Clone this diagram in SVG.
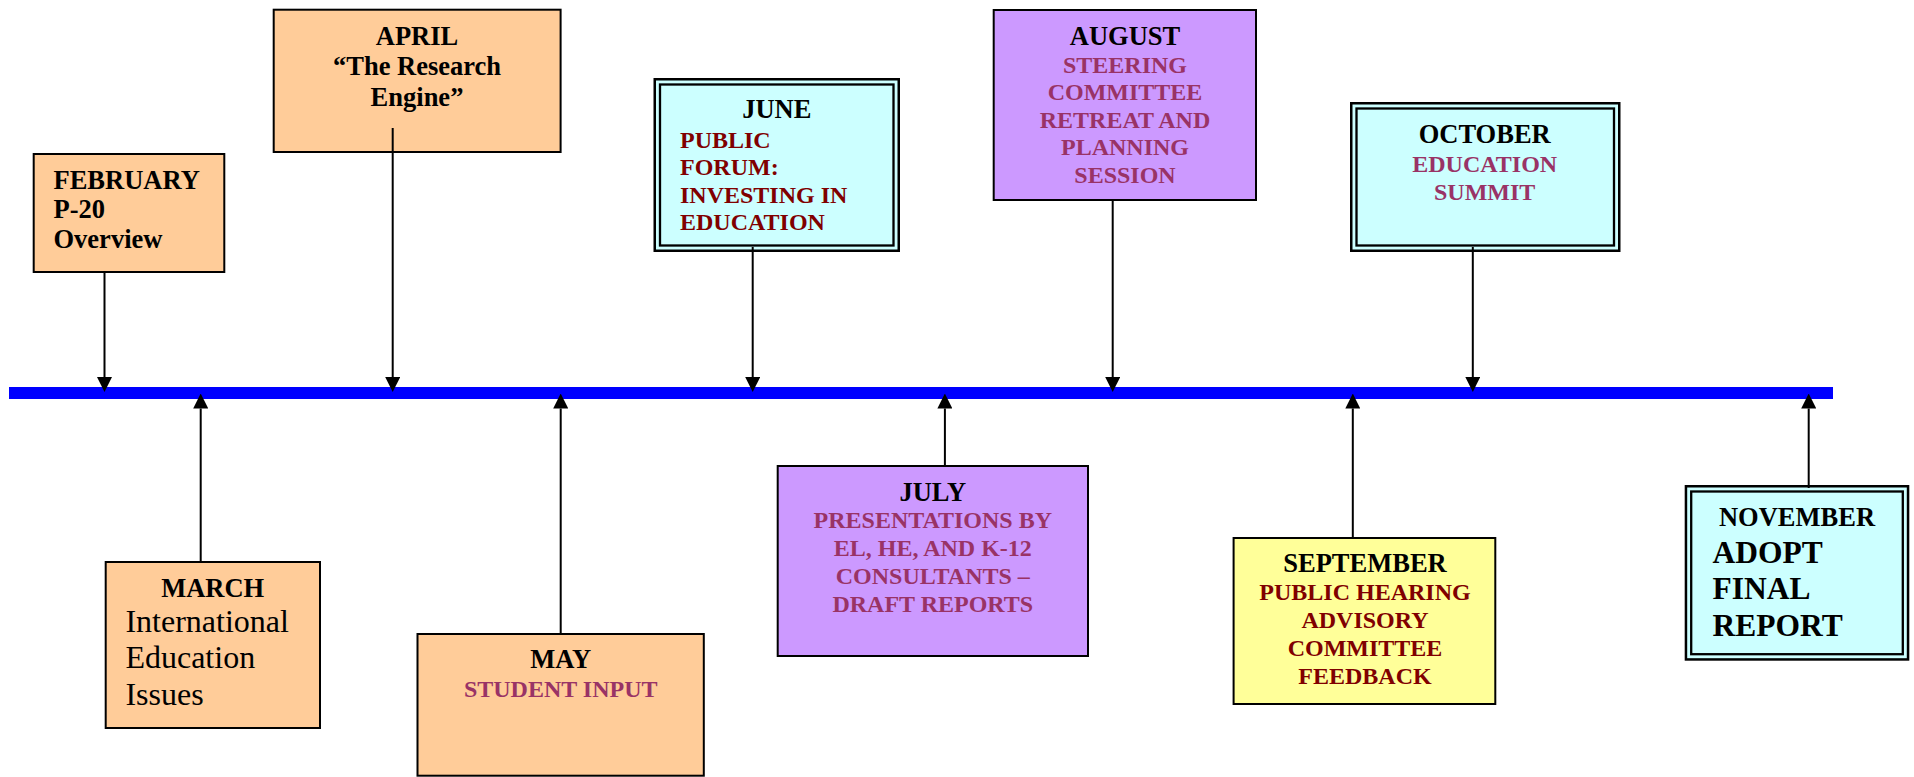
<svg xmlns="http://www.w3.org/2000/svg" width="1914" height="777" viewBox="0 0 1914 777">
<defs>
<style>
.box{stroke:#000;stroke-width:2}
.o{stroke:#000;stroke-width:2.5}
.i{fill:none;stroke:#000;stroke-width:2.3}
.peach{fill:#FFCC99}
.cyan{fill:#CCFFFF}
.purple{fill:#CC99FF}
.yellow{fill:#FFFF99}
text{font-family:"Liberation Serif","Times New Roman",serif;font-weight:bold}
.h{font-size:26.5px;fill:#000}
.b{font-size:24px}
.red{fill:#800000}
.mauve{fill:#993366}
.c{text-anchor:middle}
.reg{font-weight:normal;font-size:32px;fill:#000}
.big{font-size:31.5px;fill:#000}
.arr{stroke:#000;stroke-width:2;fill:none;marker-end:url(#ah)}
</style>
<marker id="ah" viewBox="0 0 15 15" refX="0" refY="7.5" markerWidth="15" markerHeight="15" markerUnits="userSpaceOnUse" orient="auto">
<path d="M0,0 L15,7.5 L0,15 Z" fill="#000"/>
</marker>
</defs>
<rect width="1914" height="777" fill="#fff"/>

<g id="timeline">
<rect x="9" y="387" width="1824" height="12" fill="#0000FF"/>
</g>

<g id="february">
<rect class="box peach" x="33.7" y="154" width="190.6" height="118"/>
<text class="h" x="53.5" y="189">FEBRUARY<tspan x="53.5" y="218.3">P-20</tspan><tspan x="53.5" y="248.3">Overview</tspan></text>
</g>

<g id="april">
<rect class="box peach" x="273.7" y="9.7" width="286.9" height="142.3"/>
<text class="h c" x="417" y="45">APRIL<tspan x="417" y="75.3">“The Research</tspan><tspan x="417" y="105.7">Engine”</tspan></text>
</g>

<g id="march">
<rect class="box peach" x="105.7" y="562" width="214.3" height="166"/>
<text class="h c" x="212.7" y="597">MARCH</text>
<text class="reg" x="125.4" y="632.3">International<tspan x="125.4" y="668.3">Education</tspan><tspan x="125.4" y="705">Issues</tspan></text>
</g>

<g id="may">
<rect class="box peach" x="417.5" y="634" width="286.3" height="141.7"/>
<text class="h c" x="560.7" y="668.3">MAY</text>
<text class="b mauve c" x="560.7" y="696.7">STUDENT INPUT</text>
</g>

<g id="june">
<rect class="o cyan" x="654.75" y="79.25" width="244" height="171.5"/>
<rect class="i" x="660" y="84.5" width="233.5" height="161"/>
<text class="h c" x="776.8" y="118.3">JUNE</text>
<text class="b red" x="680" y="147.7">PUBLIC<tspan x="680" y="175">FORUM:</tspan><tspan x="680" y="202.7">INVESTING IN</tspan><tspan x="680" y="230">EDUCATION</tspan></text>
</g>

<g id="july">
<rect class="box purple" x="777.7" y="466" width="310.3" height="190"/>
<text class="h c" x="932.8" y="500.7">JULY</text>
<text class="b mauve c" x="932.8" y="528.3">PRESENTATIONS BY<tspan x="932.8" y="556">EL, HE, AND K-12</tspan><tspan x="932.8" y="583.5">CONSULTANTS –</tspan><tspan x="932.8" y="611.5">DRAFT REPORTS</tspan></text>
</g>

<g id="august">
<rect class="box purple" x="993.7" y="10" width="262.3" height="190"/>
<text class="h c" x="1125" y="45">AUGUST</text>
<text class="b mauve c" x="1125" y="72.7">STEERING<tspan x="1125" y="100">COMMITTEE</tspan><tspan x="1125" y="127.7">RETREAT AND</tspan><tspan x="1125" y="155">PLANNING</tspan><tspan x="1125" y="182.7">SESSION</tspan></text>
</g>

<g id="september">
<rect class="box yellow" x="1233.6" y="538" width="261.7" height="166"/>
<text class="h c" x="1365" y="571.7">SEPTEMBER</text>
<text class="b red c" x="1365" y="600">PUBLIC HEARING<tspan x="1365" y="627.7">ADVISORY</tspan><tspan x="1365" y="656">COMMITTEE</tspan><tspan x="1365" y="684">FEEDBACK</tspan></text>
</g>

<g id="october">
<rect class="o cyan" x="1351.25" y="103.25" width="268" height="147.5"/>
<rect class="i" x="1356.5" y="108.5" width="257.5" height="137"/>
<text class="h c" x="1484.7" y="142.7">OCTOBER</text>
<text class="b mauve c" x="1484.7" y="172">EDUCATION<tspan x="1484.7" y="200">SUMMIT</tspan></text>
</g>

<g id="november">
<rect class="o cyan" x="1685.95" y="486.25" width="222.1" height="173.2"/>
<rect class="i" x="1691.2" y="491.5" width="211.6" height="162.7"/>
<text class="h c" x="1797" y="526">NOVEMBER</text>
<text class="big" x="1712.5" y="562.5">ADOPT<tspan x="1712.5" y="599.3">FINAL</tspan><tspan x="1712.5" y="636">REPORT</tspan></text>
</g>

<g id="connectors">
<line class="arr" x1="104.5" y1="273" x2="104.5" y2="377"/>
<line class="arr" x1="392.7" y1="128" x2="392.7" y2="377"/>
<line class="arr" x1="752.7" y1="247" x2="752.7" y2="377"/>
<line class="arr" x1="1112.7" y1="201" x2="1112.7" y2="377"/>
<line class="arr" x1="1472.8" y1="247" x2="1472.8" y2="377"/>
<line class="arr" x1="200.7" y1="561" x2="200.7" y2="408.5"/>
<line class="arr" x1="560.7" y1="633" x2="560.7" y2="408.5"/>
<line class="arr" x1="944.9" y1="465" x2="944.9" y2="408.5"/>
<line class="arr" x1="1352.8" y1="537" x2="1352.8" y2="408.5"/>
<line class="arr" x1="1808.7" y1="488" x2="1808.7" y2="408.5"/>
</g>
</svg>
